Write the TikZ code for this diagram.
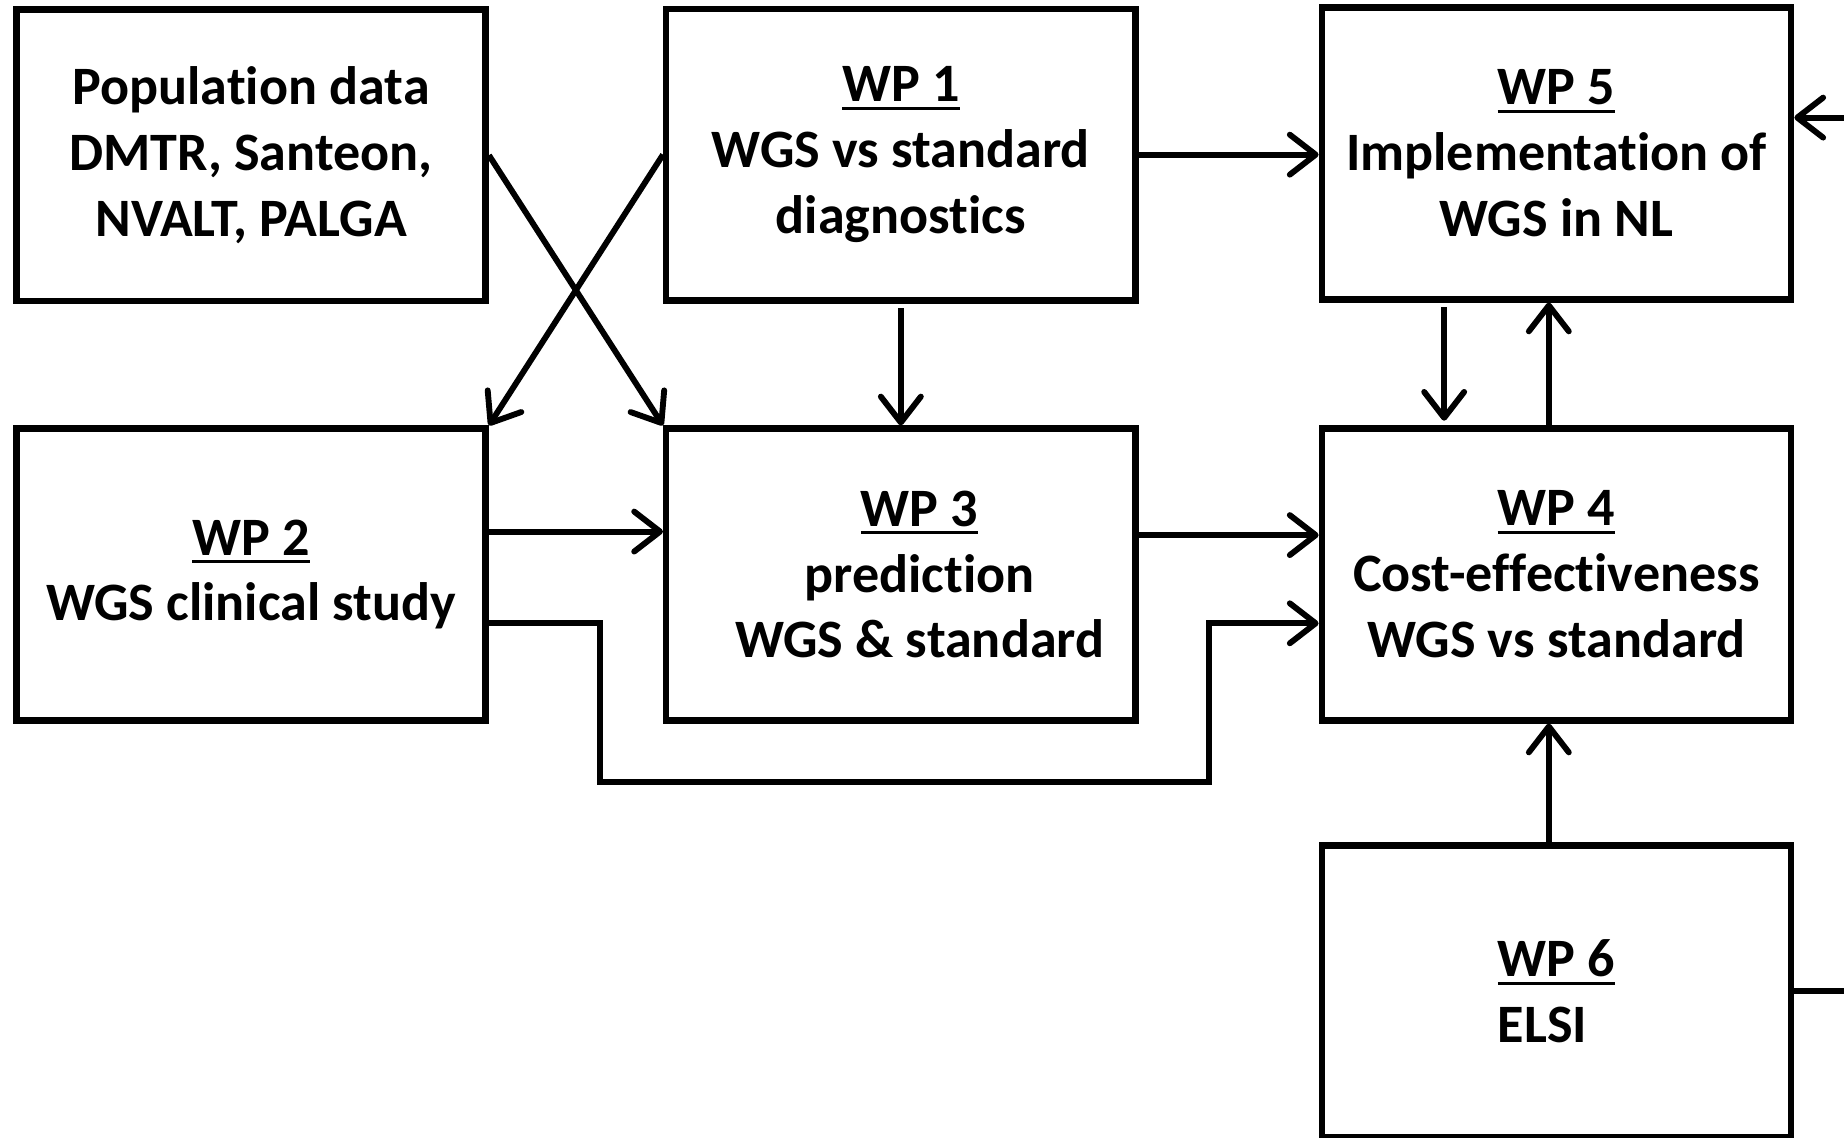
\documentclass[tikz,border=0pt]{standalone}
\usepackage{fontspec}
\setmainfont[Ligatures=NoCommon]{Carlito}
\usepackage{tikz}
\usetikzlibrary{arrows.meta}

\newcommand{\wphead}[1]{\setbox0\hbox{#1}\rlap{\rule[-7pt]{\wd0}{2.8pt}}\box0}

\begin{document}
\begin{tikzpicture}[x=1pt, y=-1pt,
    box/.style={draw, line width=5.5pt, minimum width=399pt, minimum height=248pt,
                align=center, inner sep=0pt, font=\bfseries\fontsize{46}{56}\selectfont},
    arr/.style={line width=5pt, -{Straight Barb[length=22pt, width=34pt, round]}}]
            \useasboundingbox (0,0) rectangle (1568,967);

            % Boxes, top row
            \node[box] (pop) at (213.5,132) {Population data\\DMTR, Santeon,\\NVALT, PALGA};
            \node[box] (wp1) at (766,131.5) {\wphead{WP 1}\\WGS vs standard\\diagnostics};
            \node[box] (wp5) at (1323.5,130.5) {\wphead{WP 5}\\Implementation of\\WGS in NL};

            % Boxes, middle row
            \node[box] (wp2) at (213.5,488.5) {\wphead{WP 2}\\WGS clinical study};
            \node[box, label={[align=center, xshift=16pt, font=\bfseries\fontsize{46}{56}\selectfont]center:{\wphead{WP 3}\\prediction\\WGS \& standard}}] (wp3) at (766,488.5) {};
            \node[box] (wp4) at (1323.5,488.5) {\wphead{WP 4}\\Cost-effectiveness\\WGS vs standard};

            % Bottom box
            \node[box, align=left] (wp6) at (1323.5,843) {\wphead{WP 6}\\ELSI};

            % Loose ends at the right margin
            \coordinate (inR) at (1568,100);
            \coordinate (outR) at (1568,843);

            % Crossing arrows
            \draw[arr] (pop.east) -- (wp3.north west);
            \draw[arr] (wp1.west) -- (wp2.north east);

            % Straight arrows
            \draw[arr] (wp1.east) -- (wp1.east -| wp5.west);
            \draw[arr] ([yshift=-4pt]wp1.south) -- (wp3.north);
            \draw[arr] ([yshift=36.5pt]wp2.east) -- ([yshift=36.5pt]wp2.east -| wp3.west);
            \draw[arr] ([yshift=33.5pt]wp3.east) -- ([yshift=33.5pt]wp3.east -| wp4.west);
            \draw[arr] ([xshift=-95.5pt, yshift=-4pt]wp5.south) -- ([xshift=-95.5pt, yshift=4pt]wp4.north);
            \draw[arr] ([xshift=-6.5pt]wp4.north) -- ([xshift=-6.5pt]wp5.south);
            \draw[arr] ([xshift=-6.5pt]wp6.north) -- ([xshift=-6.5pt]wp4.south);

            % Detour from WP 2 round WP 3
            \draw[arr] ([yshift=-41.5pt]wp2.east) -| (510,665) -| (1028,530) -- ([yshift=-41.5pt]wp4.west);

            % Margin lines
            \draw[arr] (inR) -- (inR -| wp5.east);
            \draw[line width=5pt] (wp6.east) -- (outR);
        \end{tikzpicture}
\end{document}
